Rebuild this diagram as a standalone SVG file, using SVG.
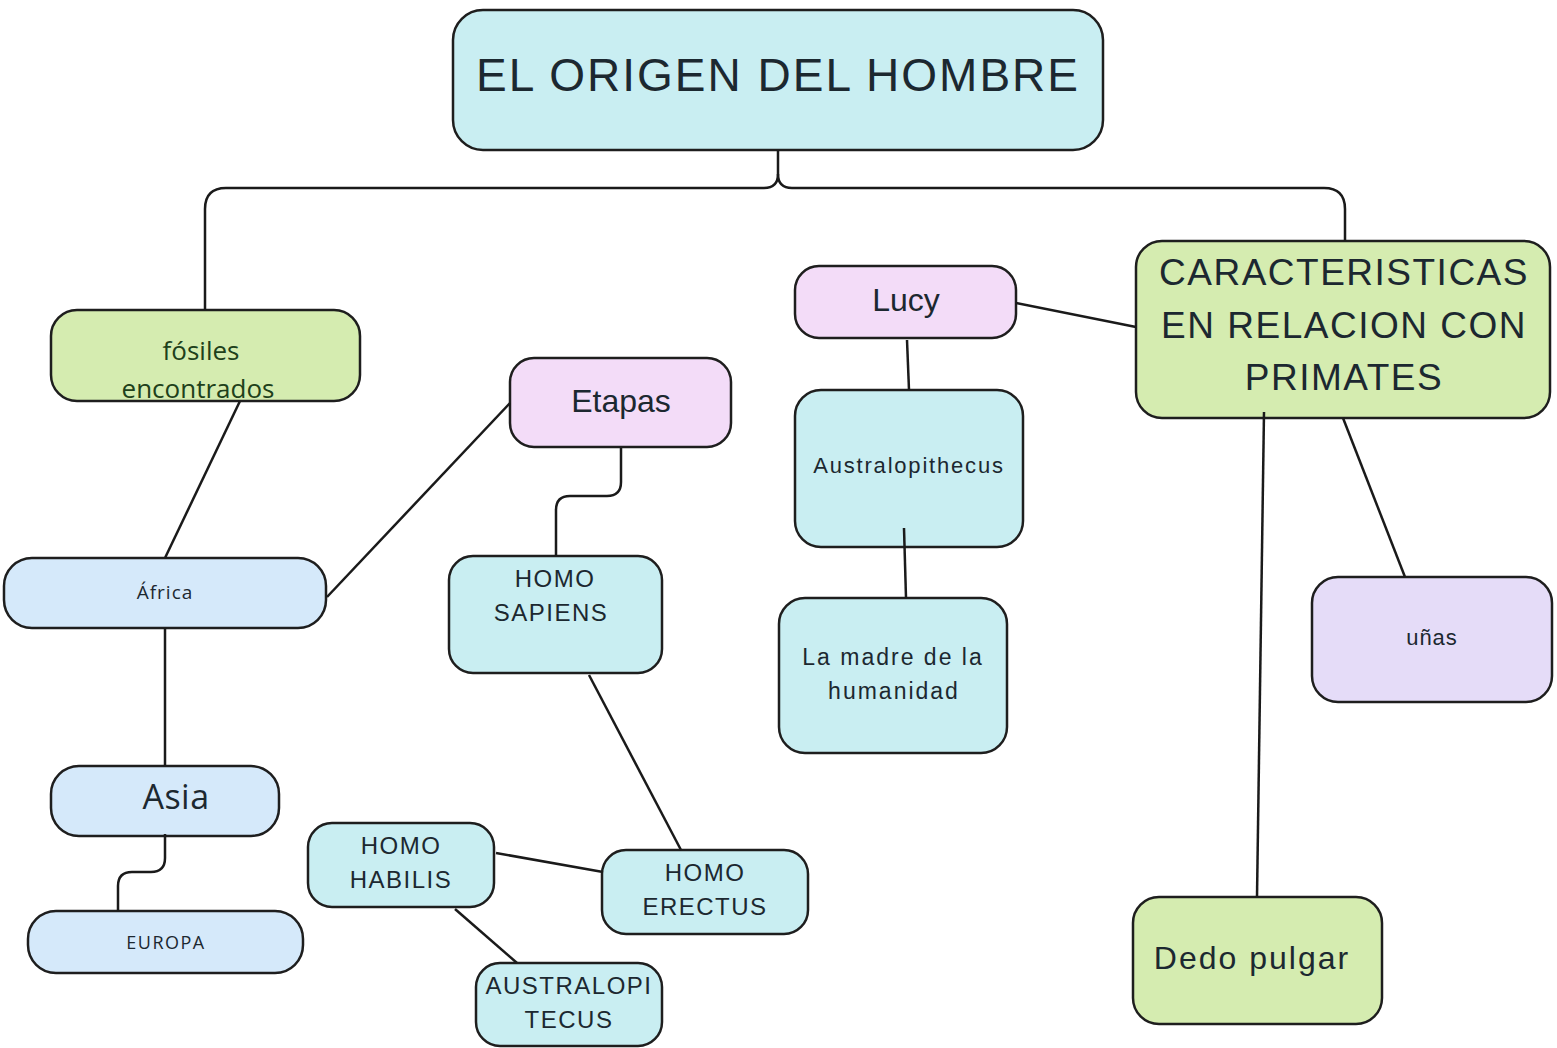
<svg xmlns="http://www.w3.org/2000/svg" width="1557" height="1048" viewBox="0 0 1557 1048">
<style>
.box{stroke:#1e1e1e;stroke-width:2.5}
.cyan{fill:#c9eef2}
.green{fill:#d5ecb0}
.pink{fill:#f3dcf8}
.blue{fill:#d5e9fa}
.lav{fill:#e5dcf8}
.a{font-family:"Liberation Sans",Arial,sans-serif;fill:#1c2830;text-anchor:middle}
.o{font-family:"Open Sans","Noto Sans",sans-serif;fill:#1c2830;text-anchor:middle}
.h{font-size:24px;letter-spacing:1.5px}
.conn path,.conn line{fill:none;stroke:#1a1a1a;stroke-width:2.5}
</style>
<rect width="1557" height="1048" fill="#ffffff"/>
<g id="n-title"><rect class="box cyan" x="453" y="10" width="650" height="140" rx="30"/><text class="a" x="778" y="91" font-size="46" letter-spacing="2" fill="#111">EL ORIGEN DEL HOMBRE</text></g>
<g id="n-fosiles"><rect class="box green" x="51" y="310" width="309" height="91" rx="26"/><text class="o" x="201" y="360" font-size="26" style="fill:#20401a">fósiles</text><text class="o" x="198" y="398" font-size="26" style="fill:#20401a">encontrados</text></g>
<g id="n-etapas"><rect class="box pink" x="510" y="358" width="221" height="89" rx="24"/><text class="a" x="621" y="412" font-size="32">Etapas</text></g>
<g id="n-africa"><rect class="box blue" x="4" y="558" width="322" height="70" rx="28"/><text class="o" x="165" y="599" font-size="19" letter-spacing="1">África</text></g>
<g id="n-asia"><rect class="box blue" x="51" y="766" width="228" height="70" rx="28"/><text class="o" x="176" y="809" font-size="34" letter-spacing="0.5">Asia</text></g>
<g id="n-europa"><rect class="box blue" x="28" y="911" width="275" height="62" rx="28"/><text class="o" x="166" y="949" font-size="18" letter-spacing="1.5">EUROPA</text></g>
<g id="n-sapiens"><rect class="box cyan" x="449" y="556" width="213" height="117" rx="24"/><text class="a h" x="555" y="587">HOMO</text><text class="a h" x="551" y="621">SAPIENS</text></g>
<g id="n-habilis"><rect class="box cyan" x="308" y="823" width="186" height="84" rx="24"/><text class="a h" x="401" y="854">HOMO</text><text class="a h" x="401" y="888">HABILIS</text></g>
<g id="n-erectus"><rect class="box cyan" x="602" y="850" width="206" height="84" rx="24"/><text class="a h" x="705" y="881">HOMO</text><text class="a h" x="705" y="915">ERECTUS</text></g>
<g id="n-australopi"><rect class="box cyan" x="476" y="963" width="186" height="83" rx="24"/><text class="a h" x="569" y="994">AUSTRALOPI</text><text class="a h" x="569" y="1028">TECUS</text></g>
<g id="n-lucy"><rect class="box pink" x="795" y="266" width="221" height="72" rx="24"/><text class="a" x="906" y="311" font-size="32">Lucy</text></g>
<g id="n-australopithecus"><rect class="box cyan" x="795" y="390" width="228" height="157" rx="26"/><text class="a" x="909" y="473" font-size="22" letter-spacing="1.8">Australopithecus</text></g>
<g id="n-madre"><rect class="box cyan" x="779" y="598" width="228" height="155" rx="26"/><text class="a" x="893" y="665" font-size="23" letter-spacing="2">La madre de la</text><text class="a" x="894" y="699" font-size="23" letter-spacing="2">humanidad</text></g>
<g id="n-caract"><rect class="box green" x="1136" y="241" width="414" height="177" rx="26"/><text class="a" x="1344" y="285" font-size="37" letter-spacing="1.5" fill="#111">CARACTERISTICAS</text><text class="a" x="1344" y="338" font-size="37" letter-spacing="1.5" fill="#111">EN RELACION CON</text><text class="a" x="1344" y="390" font-size="37" letter-spacing="1.5" fill="#111">PRIMATES</text></g>
<g id="n-unas"><rect class="box lav" x="1312" y="577" width="240" height="125" rx="26"/><text class="a" x="1432" y="645" font-size="22" letter-spacing="1">uñas</text></g>
<g id="n-dedo"><rect class="box green" x="1133" y="897" width="249" height="127" rx="26"/><text class="a" x="1252" y="969" font-size="32" letter-spacing="2" fill="#111">Dedo pulgar</text></g>
<g class="conn">
<path d="M778,150 V174 Q778,188 764,188 H226 Q205,188 205,209 V310"/>
<path d="M778,174 Q778,188 792,188 H1324 Q1345,188 1345,209 V241"/>
<line x1="240" y1="401" x2="165" y2="558"/>
<line x1="510" y1="403" x2="327" y2="597"/>
<path d="M621,448 V482 Q621,496 607,496 H570 Q556,496 556,510 V556"/>
<line x1="165" y1="628" x2="165" y2="766"/>
<path d="M165,834 V858 Q165,872 151,872 H132 Q118,872 118,886 V911"/>
<line x1="589" y1="675" x2="681" y2="850"/>
<line x1="496" y1="853" x2="603" y2="872"/>
<line x1="455" y1="909" x2="517" y2="963"/>
<line x1="907" y1="340" x2="909" y2="390"/>
<line x1="904" y1="528" x2="906" y2="598"/>
<line x1="1016" y1="303" x2="1136" y2="327"/>
<line x1="1264" y1="412" x2="1257" y2="897"/>
<line x1="1343" y1="418" x2="1405" y2="577"/>
</g>
</svg>
